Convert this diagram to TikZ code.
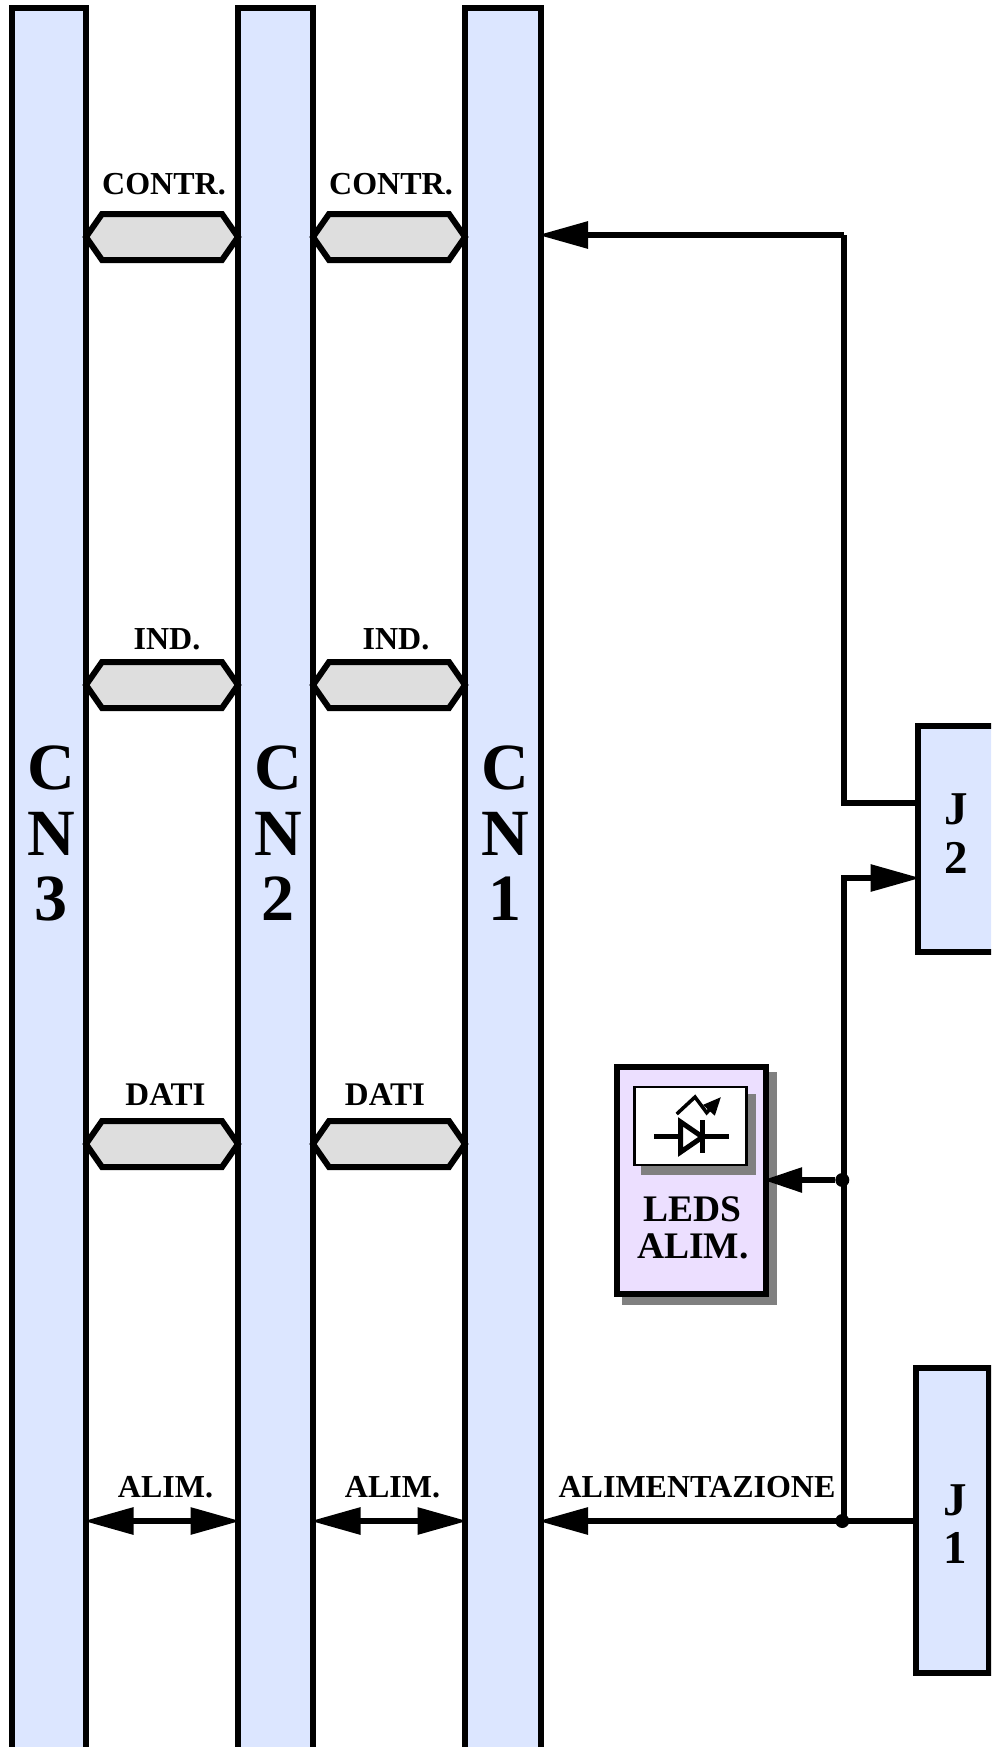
\documentclass[tikz,border=0pt]{standalone}
\usepackage{fontspec}
\setmainfont{Liberation Serif}
\usetikzlibrary{arrows.meta,calc}
\definecolor{railblue}{HTML}{DCE6FF}
\definecolor{hexgray}{HTML}{DEDEDE}
\definecolor{ledlilac}{HTML}{ECDFFF}
\definecolor{shadowgray}{HTML}{808080}
\tikzset{
  lw/.style={line width=6pt},
  rail/.style={draw,lw,fill=railblue,rectangle,inner sep=0pt,anchor=north west,minimum width=#1,minimum height=1752pt},
  railtext/.style={anchor=base,font=\fontsize{66}{66}\selectfont\bfseries,inner sep=0pt},
  jtext/.style={anchor=base,font=\fontsize{47}{47}\selectfont\bfseries,inner sep=0pt},
  lbl/.style={anchor=base,font=\fontsize{32}{32}\selectfont\bfseries,inner sep=0pt},
  ledtext/.style={anchor=base,font=\fontsize{37.5}{37.5}\selectfont\bfseries,inner sep=0pt},
  conn/.style={lw,line join=miter},
  arr/.style={conn,-{Triangle[length=50pt,width=26pt]},shorten >=-5.5pt},
  arrb/.style={conn,{Triangle[length=50pt,width=26pt]}-{Triangle[length=50pt,width=26pt]},shorten >=-5.5pt,shorten <=-5.5pt},
  hexa/.style={draw,lw,fill=hexgray,line join=miter},
  jbox/.style={draw,lw,fill=railblue,rectangle,inner sep=0pt,anchor=north west},
  dotn/.style={circle,fill=black,inner sep=0pt,minimum size=14pt},
}
\newcommand{\hexbus}[3]{% left rail, right rail, y
  \path[hexa] ($(#1.east|-0,#3)+(-3,0)$) -- ($(#1.east|-0,#3-23)+(13,0)$) -- ($(#2.west|-0,#3-23)+(-13,0)$)
    -- ($(#2.west|-0,#3)+(3,0)$) -- ($(#2.west|-0,#3+23)+(-13,0)$) -- ($(#1.east|-0,#3+23)+(13,0)$) -- cycle;
}
\begin{document}
\begin{tikzpicture}[x=1pt,y=-1pt]
\useasboundingbox (0,0) rectangle (991,1747);
\clip (0,0) rectangle (991,1747);
% rails
\node[rail=74pt] (cn3) at (9,5) {};
\node[rail=75pt] (cn2) at (235,5) {};
\node[rail=75.5pt] (cn1) at (462,5) {};
% rail letters
\foreach \n/\x/\d in {a/51/3,b/278/2,c/505/1}{
  \node[railtext] (c\n) at (\x,789) {C};
  \node[railtext] (n\n) at (\x,855) {N};
  \node[railtext] (d\n) at (\x,920) {\d};
}
% hexagon buses
\foreach \y in {237,685,1144}{
  \hexbus{cn3}{cn2}{\y}
  \hexbus{cn2}{cn1}{\y}
}
% labels
\node[lbl] (l1) at (164,195) {CONTR.};
\node[lbl] (l2) at (391,195) {CONTR.};
\node[lbl] (l3) at (167,649) {IND.};
\node[lbl] (l4) at (396,649) {IND.};
\node[lbl,font=\fontsize{33}{33}\selectfont\bfseries] (l5) at (165.5,1105) {DATI};
\node[lbl,font=\fontsize{33}{33}\selectfont\bfseries] (l6) at (385,1105) {DATI};
\node[lbl] (l7) at (165.5,1497) {ALIM.};
\node[lbl] (l8) at (392.5,1497) {ALIM.};
\node[lbl] (l9) at (697,1497) {ALIMENTAZIONE};
% J boxes
\node[jbox,minimum width=90pt,minimum height=226pt] (j2) at (915,722.7) {};
\node[jbox,minimum width=73.3pt,minimum height=305pt] (j1) at (912.7,1365) {};
\node[jtext] (j2a) at (956,824) {J};
\node[jtext] (j2b) at (956,873) {2};
\node[jtext] (j1a) at (955,1515) {J};
\node[jtext] (j1b) at (955,1563) {1};
% junctions / corners
\coordinate (top) at (843.5,235);
\coordinate (up) at (843.5,802.5);
\coordinate (low) at (843.5,878);
\node[dotn] (d1) at (842.3,1180) {};
\node[dotn] (d2) at (842.3,1521) {};
% LED box
\fill[shadowgray] (622,1072) rectangle (776.7,1305);
\node[draw,lw,fill=ledlilac,rectangle,inner sep=0pt,anchor=north west,minimum width=149pt,minimum height=227.3pt] (led) at (613.7,1063.7) {};
\fill[shadowgray] (641,1094) rectangle (756,1175);
\draw[line width=2.5pt,fill=white] (634.3,1087) rectangle (746.7,1165);
\node[ledtext] (t1) at (692,1221) {LEDS};
\node[ledtext] (t2) at (693,1258) {ALIM.};
% diode symbol
\draw[line width=5pt] (654,1136.7) -- (729,1136.7);
\draw[line width=5pt,fill=white,line join=miter] (680.7,1122) -- (680.7,1152) -- (702.5,1137) -- cycle;
\draw[line width=5pt] (702.3,1120) -- (702.3,1153);
\draw[line width=3.5pt,-{Triangle[length=18pt,width=15pt]}] (676.7,1114) -- (695,1097) -- (706.7,1112.7) -- (721,1097);
% connectors
\draw[arr] (top) -- (cn1.east|-top);
\draw[conn] (top) -- (up) -- (j2.west|-up);
\draw[arr] (low|-d2) -- (low) -- (j2.west|-low);
\draw[arr,-{Triangle[length=39pt,width=24pt]}] (d1) -- (led.east|-d1);
\draw[arr] (j1.west|-d2) -- (cn1.east|-d2);
\draw[arrb] (cn3.east|-d2) -- (cn2.west|-d2);
\draw[arrb] (cn2.east|-d2) -- (cn1.west|-d2);
\end{tikzpicture}
\end{document}
